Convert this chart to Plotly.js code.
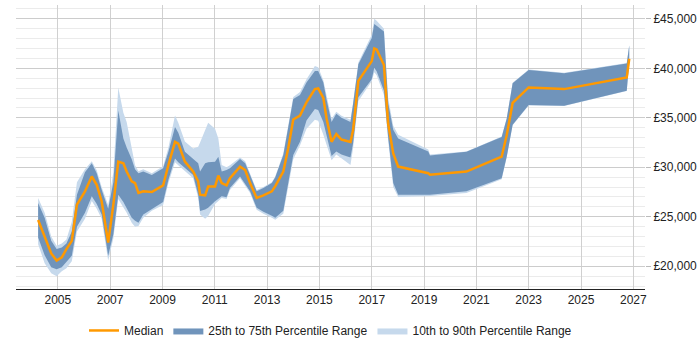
<!DOCTYPE html>
<html>
<head>
<meta charset="utf-8">
<script src="https://cdn.plot.ly/plotly-3.0.1.min.js"></script>
<style>html,body{margin:0;padding:0;background:#fff;}#chart{width:700px;height:350px;}</style>
</head>
<body>
<div id="chart"></div>
<script>
var dates = ['2004-04-01','2004-07-01','2004-10-01','2004-12-15','2005-02-25','2005-05-01','2005-07-15','2005-09-25',
'2006-01-15','2006-04-20','2006-06-28','2006-09-05','2006-12-05','2007-02-15','2007-04-25','2007-07-05','2007-08-20',
'2007-10-30','2007-12-15','2008-02-01','2008-04-08','2008-08-05','2009-01-10','2009-03-25','2009-06-25','2009-08-10',
'2009-11-10','2010-03-05','2010-05-15','2010-06-10','2010-08-20','2010-10-01','2011-01-05','2011-02-20','2011-04-08',
'2011-06-15','2011-08-01','2011-12-20','2012-03-01','2012-05-08','2012-08-08','2012-11-10','2013-03-08','2013-04-25',
'2013-08-15','2013-10-22','2014-01-01','2014-04-05','2014-07-05','2014-10-30','2014-12-15','2015-02-25','2015-04-12',
'2015-06-20','2015-08-25','2015-11-05','2016-03-10','2016-04-15','2016-06-28','2017-01-01','2017-02-05','2017-03-10',
'2017-06-20','2017-08-18','2017-10-28','2018-01-05','2019-03-01','2019-03-25','2020-08-15','2021-12-20','2022-02-28',
'2022-05-22','2023-01-01','2024-05-10','2026-10-01','2026-11-05'];

var p10 = [22230,20300,19300,19000,19500,19800,20500,23500,24800,26600,25800,24800,20570,22800,26800,26000,25400,
24400,24000,24070,24900,25600,26200,28400,30500,30200,29600,28900,26900,25230,24800,25070,26300,26600,26900,
26800,27700,28900,28100,27400,25700,25300,24900,24700,25300,27800,30800,32200,33900,34800,34700,33300,32300,
30700,31300,30900,30230,31900,36700,38700,39600,39300,37300,32700,28000,27000,27100,27100,27400,28800,31000,
34250,36250,36200,37700,40600];

var p25 = [22900,21100,19900,19700,19900,20400,21070,24000,25400,27070,26300,25230,21070,23230,27230,26500,25900,
24900,24600,24400,25230,25800,26500,28730,30900,30500,29900,29230,27230,25570,25730,25900,26570,26800,27070,
26970,27900,29070,28300,27570,25900,25500,25100,24900,25600,28230,31230,32570,34730,35900,35800,34570,33300,
31130,31600,31300,31000,32400,37070,38900,40070,39700,37730,33070,28400,27230,27230,27230,27570,28900,31070,
34300,36300,36230,37730,40700];

var median = [24670,22900,21300,20570,20900,21730,22570,26230,27570,29070,28230,26570,22400,26230,30570,30400,29570,
28570,28400,27400,27570,27500,28170,30230,32570,32400,30570,29570,28570,27230,27170,28070,28070,29170,28400,
28170,28900,30070,29730,28400,26900,27170,27570,28100,29570,31900,34830,35230,36570,37900,37970,37000,34900,
32570,33350,32800,32570,33730,38730,40730,42000,41900,40330,34400,31400,30070,29400,29250,29570,31070,33230,
36500,38070,37900,39070,40970];

var p75 = [26400,24900,22570,21730,21900,22300,23500,27230,29500,30400,29400,27730,25800,28500,35730,32900,32000,
30800,29800,29400,29570,29230,29900,31570,34070,33500,31570,30900,30400,29570,30400,30500,30570,31070,29570,
29730,29900,30830,30400,29230,27570,27900,28400,29000,31230,34000,36900,37300,38570,39730,39730,38570,36800,
34570,35400,35000,34570,36400,40400,43070,44470,44300,43730,36500,33800,32900,31600,31200,31570,33070,34900,
38500,39830,39500,40500,42300];

var p90 = [26900,25400,23000,22070,22300,22700,24500,28500,29800,30600,29700,28000,26200,29500,38070,35500,34570,
31700,30200,29600,29800,29400,30100,32000,35230,34500,32600,31900,32070,32500,33800,34500,33900,32900,30230,
30000,30200,31000,30600,29400,27700,28000,28500,29100,31400,34200,37100,37600,38900,40230,40100,38800,37100,
34900,35600,35200,34800,36500,40600,43400,45000,44800,44000,37000,34200,33300,31800,31300,31600,33100,34950,
38550,39880,39550,40550,42350];

var yTickVals = [20000,25000,30000,35000,40000,45000];
var yTickText = ['£20,000','£25,000','£30,000','£35,000','£40,000','£45,000'];

var lightBand = '#c6d9ec';
var darkBand = '#7094bb';
var medColor = '#ff9900';

var traces = [
  {x: dates, y: p10, type: 'scatter', mode: 'lines', line: {width: 0, color: lightBand}, showlegend: false, hoverinfo: 'skip'},
  {x: dates, y: p90, type: 'scatter', mode: 'lines', line: {width: 0, color: lightBand}, fill: 'tonexty', fillcolor: lightBand,
   name: '10th to 90th Percentile Range', legendrank: 3},
  {x: dates, y: p25, type: 'scatter', mode: 'lines', line: {width: 0, color: darkBand}, showlegend: false, hoverinfo: 'skip'},
  {x: dates, y: p75, type: 'scatter', mode: 'lines', line: {width: 0, color: darkBand}, fill: 'tonexty', fillcolor: darkBand,
   name: '25th to 75th Percentile Range', legendrank: 2},
  {x: dates, y: median, type: 'scatter', mode: 'lines', line: {width: 2.5, color: medColor}, name: 'Median', legendrank: 1}
];

var layout = {
  width: 700, height: 350,
  margin: {l: 16, r: 55, t: 5, b: 58},
  paper_bgcolor: '#fff', plot_bgcolor: '#fff',
  font: {family: 'Liberation Sans, Arial, sans-serif', size: 12, color: '#222'},
  showlegend: true,
  legend: {orientation: 'h', x: 0.5, xanchor: 'center', y: -0.146, yanchor: 'middle',
           font: {size: 12, color: '#222'}, traceorder: 'normal', itemwidth: 30},
  xaxis: {
    type: 'date',
    range: ['2003-05-28', '2027-06-13'],
    tick0: '2005-01-01', dtick: 'M24', tickformat: '%Y',
    showgrid: true, gridcolor: '#d0d0d0', gridwidth: 1,
    showline: true, linecolor: '#222', linewidth: 1,
    ticks: '', zeroline: false,
    tickfont: {size: 12, color: '#222'}
  },
  yaxis: {
    side: 'right',
    range: [17700, 46400],
    tickvals: yTickVals, ticktext: yTickText,
    showgrid: true, gridcolor: '#cccccc', gridwidth: 1,
    minor: {dtick: 1000, showgrid: true, gridcolor: '#ebebeb', gridwidth: 1, ticks: ''},
    ticks: 'outside', ticklen: 5, tickcolor: '#bbbbbb',
    showline: false, zeroline: false,
    tickfont: {size: 12, color: '#222'}
  }
};

Plotly.newPlot('chart', traces, layout, {staticPlot: true, displayModeBar: false});
</script>
</body>
</html>
